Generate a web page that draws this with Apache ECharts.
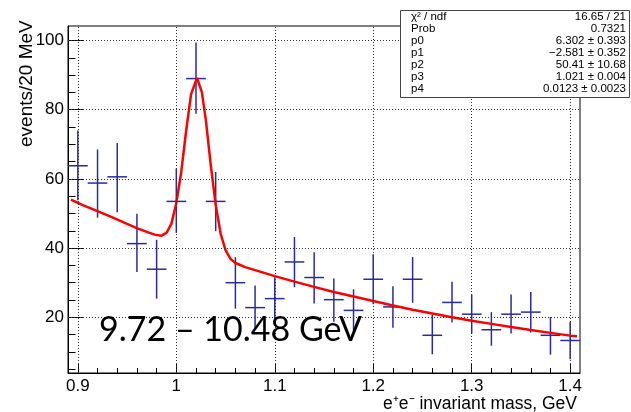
<!DOCTYPE html>
<html>
<head>
<meta charset="utf-8">
<script src="https://cdn.jsdelivr.net/npm/echarts@6/dist/echarts.min.js"></script>
<style>
  html, body { margin: 0; padding: 0; background: #fff; }
  #chart { width: 631px; height: 412px; }
</style>
</head>
<body>
<div id="chart"></div>
<script>
  // bin centres (GeV), counts per 20 MeV and the ends of the drawn error bars
  let binCenters = [0.90, 0.92, 0.94, 0.96, 0.98, 1.00, 1.02, 1.04, 1.06, 1.08, 1.10, 1.12, 1.14,
                    1.16, 1.18, 1.20, 1.22, 1.24, 1.26, 1.28, 1.30, 1.32, 1.34, 1.36, 1.38, 1.40]
  let counts  = [63.8, 58.8, 60.6, 41.3, 33.9, 53.5, 89.0, 53.5, 30.0, 22.8, 25.4, 36.0, 31.5,
                 25.1, 22.0, 31.0, 23.0, 31.0, 14.8, 24.3, 20.9, 16.4, 20.9, 21.5, 14.8, 13.3]
  let errLow  = [53.8, 48.8, 50.4, 33.1, 25.4, 44.4, 78.8, 44.9, 22.5, 16.5, 18.6, 28.7, 24.0,
                 18.7, 16.2, 23.8, 17.0, 24.2, 9.3, 18.5, 15.3, 11.8, 15.3, 15.6, 9.2, 7.9]
  let errHigh = [74.0, 68.5, 70.4, 49.9, 42.4, 63.0, 99.4, 62.0, 37.4, 29.2, 31.6, 43.2, 38.8,
                 31.2, 28.1, 38.2, 29.0, 37.4, 20.8, 30.3, 26.6, 21.5, 26.6, 27.3, 20.1, 18.7]

  // fitted curve, as drawn
  let fitX = [0.893, 0.905, 0.92, 0.935, 0.95, 0.96, 0.97, 0.978, 0.985, 0.99, 0.995, 1.0, 1.005,
              1.01, 1.015, 1.021, 1.026, 1.03, 1.035, 1.04, 1.045, 1.05, 1.055, 1.06, 1.07, 1.085,
              1.1, 1.12, 1.14, 1.16, 1.18, 1.2, 1.22, 1.24, 1.26, 1.28, 1.3, 1.32, 1.34, 1.36,
              1.38, 1.4, 1.407]
  let fitY = [54.0, 52.4, 50.7, 48.9, 47.0, 45.8, 44.7, 43.9, 43.6, 44.4, 47.0, 53.0, 62.0,
              74.0, 84.5, 89.2, 85.0, 77.0, 64.0, 52.5, 44.2, 39.4, 36.9, 35.7, 34.5, 33.2,
              31.9, 30.3, 28.8, 27.3, 26.0, 24.7, 23.4, 22.2, 21.1, 20.0, 19.0, 18.1, 17.2, 16.3,
              15.5, 14.7, 14.5]

  let xMajor = [0.9, 1.0, 1.1, 1.2, 1.3, 1.4]
  let xMinor = [0.9, 0.92, 0.94, 0.96, 0.98, 1.0, 1.02, 1.04, 1.06, 1.08, 1.1, 1.12, 1.14, 1.16,
                1.18, 1.2, 1.22, 1.24, 1.26, 1.28, 1.3, 1.32, 1.34, 1.36, 1.38, 1.4]
  let yMajor = [20, 40, 60, 80, 100]
  let yMinor = [5, 10, 15, 20, 25, 30, 35, 40, 45, 50, 55, 60, 65, 70, 75, 80, 85, 90, 95, 100]

  let statNames  = ['χ² / ndf', 'Prob', 'p0', 'p1', 'p2', 'p3', 'p4']
  let statValues = ['16.65 / 21', '0.7321', '6.302 ± 0.393', '−2.581 ± 0.352',
                    '50.41 ± 10.68', '1.021 ± 0.004', '0.0123 ± 0.0023']

  let binHalf = 0.01
  let font = 'Liberation Sans'

  let points = binCenters.map((x, i) => [x, counts[i], errLow[i], errHigh[i]])
  let fit = fitX.map((x, i) => [x, fitY[i]])

  function majorAxis (min, max, ticks, len, labelOpt) {
    return {
      type: 'value', min: min, max: max,
      axisLine: { show: true, onZero: false, lineStyle: { color: '#000', width: 1 } },
      axisTick: { show: true, inside: true, length: len, customValues: ticks, lineStyle: { color: '#000' } },
      axisLabel: Object.assign({ customValues: ticks, color: '#000', fontSize: 17, fontFamily: font }, labelOpt),
      splitLine: { show: false }
    }
  }
  function minorAxis (min, max, ticks, len) {
    return {
      type: 'value', min: min, max: max,
      axisLine: { show: false },
      axisTick: { show: true, inside: true, length: len, customValues: ticks, lineStyle: { color: '#000' } },
      axisLabel: { show: false },
      splitLine: { show: false }
    }
  }

  let xMain = majorAxis(0.89, 1.41, xMajor, 10, { margin: 5, formatter: v => String(Number(v.toFixed(2))) })
  xMain.position = 'bottom'
  let xSub = minorAxis(0.89, 1.41, xMinor, 5)
  xSub.position = 'bottom'
  let yMain = majorAxis(3.9, 104.2, yMajor, 15, { margin: 4 })
  yMain.position = 'left'
  let ySub = minorAxis(3.9, 104.2, yMinor, 7.5)
  ySub.position = 'left'

  // dotted grid at the major ticks
  let gridLines = xMajor.map(v => ({ xAxis: v })).concat(yMajor.map(v => ({ yAxis: v })))

  let graphics = [
    { type: 'text', z: 100, x: 17, y: 147, rotation: Math.PI / 2,
      style: { text: 'events/20 MeV', fontFamily: font, fontSize: 19, fill: '#000', align: 'left', verticalAlign: 'top' } },
    { type: 'text', z: 100, x: 577, y: 404,
      style: { text: 'e⁺e⁻ invariant mass, GeV', fontFamily: font, fontSize: 17.5, fill: '#000', align: 'right', verticalAlign: 'middle' } },
    { type: 'text', z: 100, x: 99, y: 347,
      style: { text: '9.72 – 10.48 GeV', fontFamily: 'Lato', fontSize: 34, fill: '#000', align: 'left', verticalAlign: 'bottom' } },
    { type: 'rect', z: 100, shape: { x: 400.5, y: 10.5, width: 229, height: 87 },
      style: { fill: '#fff', stroke: '#444', lineWidth: 1 } }
  ]
  statNames.forEach((name, i) => {
    let y = 17 + i * 12
    graphics.push({ type: 'text', z: 101, x: 411, y: y,
      style: { text: name, fontFamily: font, fontSize: 11.5, fill: '#000', align: 'left', verticalAlign: 'middle' } })
    graphics.push({ type: 'text', z: 101, x: 626, y: y,
      style: { text: statValues[i], fontFamily: font, fontSize: 11.5, fill: '#000', align: 'right', verticalAlign: 'middle' } })
  })

  let option = {
    animation: false,
    backgroundColor: '#fff',
    grid: { left: 68, right: 51, top: 26, bottom: 39, show: true, borderColor: '#000', borderWidth: 1, backgroundColor: 'transparent' },
    xAxis: [xMain, xSub],
    yAxis: [yMain, ySub],
    graphic: graphics,
    series: [
      {
        name: 'grid',
        type: 'line',
        xAxisIndex: 0, yAxisIndex: 0,
        data: [],
        z: 1,
        markLine: {
          silent: true,
          symbol: 'none',
          label: { show: false },
          lineStyle: { color: '#333', type: [1, 2], width: 1 },
          data: gridLines
        }
      },
      {
        name: 'data',
        type: 'custom',
        clip: true,
        xAxisIndex: 0, yAxisIndex: 0,
        encode: { x: 0, y: 1 },
        data: points,
        z: 3,
        renderItem: function (params, api) {
          let x = api.value(0)
          let y = api.value(1)
          let l = api.coord([x - binHalf, y])
          let r = api.coord([x + binHalf, y])
          let b = api.coord([x, api.value(2)])
          let t = api.coord([x, api.value(3)])
          let style = { stroke: '#2a2aa4', lineWidth: 1.5 }
          return {
            type: 'group',
            children: [
              { type: 'line', shape: { x1: l[0], y1: l[1], x2: r[0], y2: r[1] }, style: style },
              { type: 'line', shape: { x1: t[0], y1: t[1], x2: b[0], y2: b[1] }, style: style }
            ]
          }
        }
      },
      {
        name: 'fit',
        type: 'line',
        xAxisIndex: 0, yAxisIndex: 0,
        data: fit,
        showSymbol: false,
        smooth: false,
        z: 4,
        lineStyle: { color: '#ff0000', width: 2.5 }
      }
    ]
  }

  let myChart = echarts.init(document.getElementById('chart'), null, { renderer: 'canvas' })
  myChart.setOption(option)
</script>
</body>
</html>
